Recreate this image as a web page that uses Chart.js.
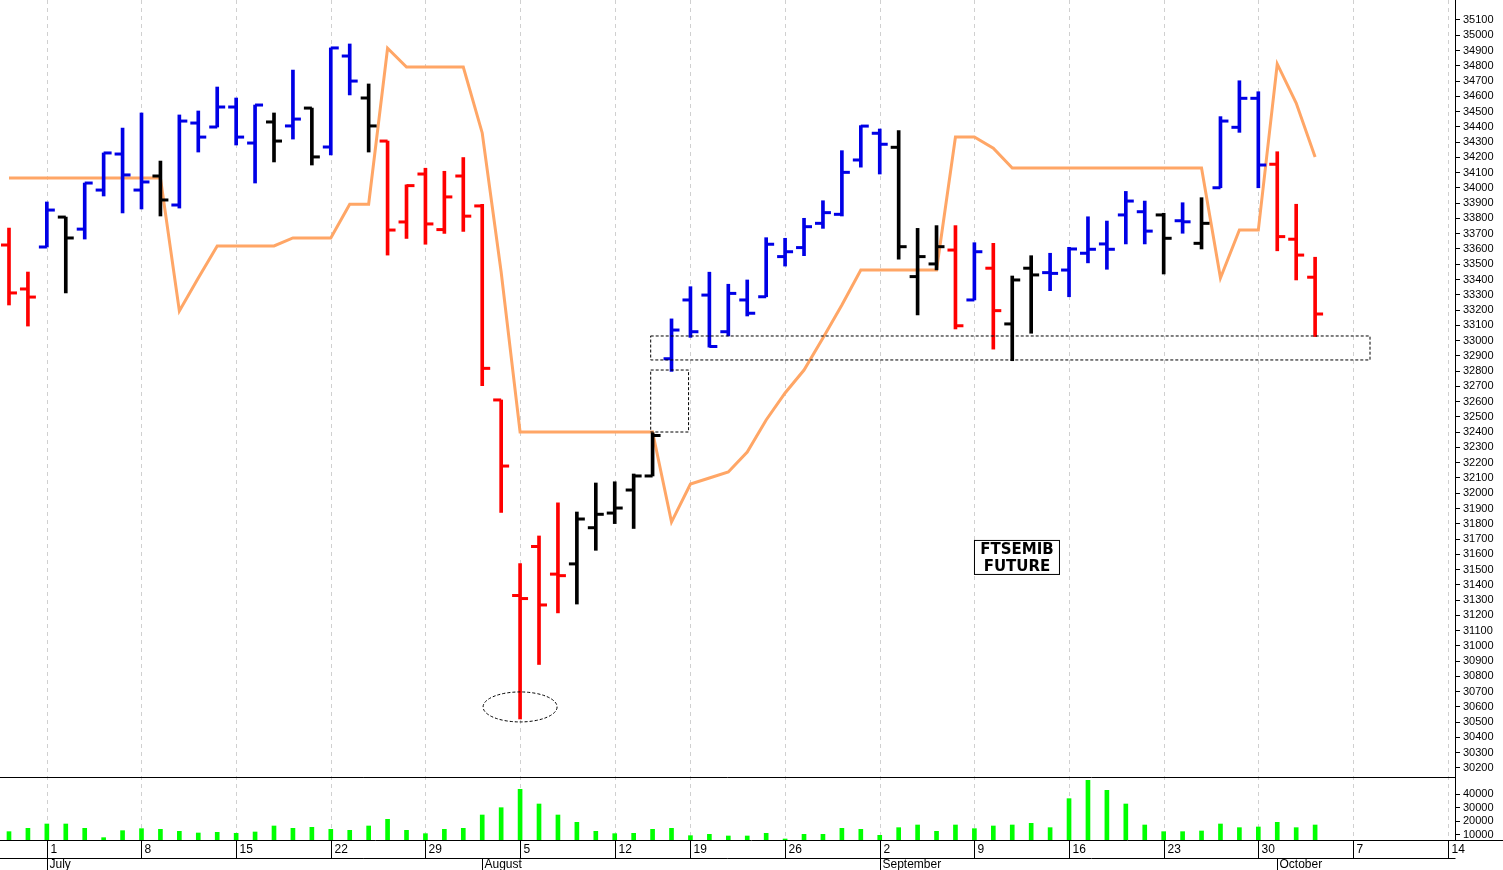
<!DOCTYPE html>
<html><head><meta charset="utf-8">
<script src="https://cdn.jsdelivr.net/npm/chart.js@4.4.1/dist/chart.umd.min.js"></script>
<style>html,body{margin:0;padding:0;background:#fff}#wrap{width:1503px;height:870px}</style>
</head><body><div id="wrap"><canvas id="c"></canvas></div>
<script>
const dates = ['2019-06-27','2019-06-28',
'2019-07-01','2019-07-02','2019-07-03','2019-07-04','2019-07-05',
'2019-07-08','2019-07-09','2019-07-10','2019-07-11','2019-07-12',
'2019-07-15','2019-07-16','2019-07-17','2019-07-18','2019-07-19',
'2019-07-22','2019-07-23','2019-07-24','2019-07-25','2019-07-26',
'2019-07-29','2019-07-30','2019-07-31','2019-08-01','2019-08-02',
'2019-08-05','2019-08-06','2019-08-07','2019-08-08','2019-08-09',
'2019-08-12','2019-08-13','2019-08-14','2019-08-16',
'2019-08-19','2019-08-20','2019-08-21','2019-08-22','2019-08-23',
'2019-08-26','2019-08-27','2019-08-28','2019-08-29','2019-08-30',
'2019-09-02','2019-09-03','2019-09-04','2019-09-05','2019-09-06',
'2019-09-09','2019-09-10','2019-09-11','2019-09-12','2019-09-13',
'2019-09-16','2019-09-17','2019-09-18','2019-09-19','2019-09-20',
'2019-09-23','2019-09-24','2019-09-25','2019-09-26','2019-09-27',
'2019-09-30','2019-10-01','2019-10-02','2019-10-03','2019-10-04',
'2019-10-07','2019-10-08','2019-10-09','2019-10-10','2019-10-11',
'2019-10-14'];
const opens  = [33626,33338,33613,33809,33730,33986,34222,33986,34078,33888,34425,34399,34530,34294,34432,34406,34523,34268,34864,34589,
34307,33777,34091,33727,34078,33882,32611,31330,31651,31470,31537,31774,31870,32021,32113,32881,33266,33298,33058,33266,
33287,33550,33609,33768,33827,34183,34358,34266,33419,33502,33593,33266,33474,33109,33474,33445,33462,33572,33633,33823,
33844,33823,33785,33637,34001,34397,34587,34155,33664,33415];
const highs  = [33737,33449,33908,33809,34032,34229,34392,34491,34176,34478,34504,34661,34589,34543,34491,34772,34523,34917,34943,34681,
34307,34020,34129,34109,34199,33892,32611,31539,31720,31937,31877,32067,32075,32126,32396,33142,33353,33448,33369,33397,
33674,33670,33801,33916,34244,34408,34386,34375,33735,33753,33753,33641,33637,33423,33556,33572,33611,33811,33783,33977,
33914,33834,33903,33936,34467,34702,34630,34237,33893,33546];
const lows   = [33233,33095,33613,33312,33665,33947,33836,33862,33816,33868,34235,34399,34281,34032,34170,34320,34150,34216,34609,34235,
33560,33669,33631,33702,33715,32705,31874,30521,30878,31216,31274,31626,31801,31769,32113,32798,33021,32957,33030,33161,
33287,33488,33556,33735,33816,34136,34091,33534,33168,33463,33076,33266,32944,32868,33048,33327,33287,33509,33467,33633,
33633,33436,33703,33600,34001,34364,34001,33588,33397,33026];
const closes = [33312,33285,33855,33672,34032,34229,34085,34039,33921,34438,34333,34530,34333,34543,34307,34451,34203,34917,34700,34406,
33724,34015,33764,33941,33815,32818,32178,31310,31268,31460,31831,31862,31903,32113,32378,33069,33058,32961,33309,33179,
33631,33582,33746,33838,34102,34405,34286,33615,33550,33615,33097,33582,33196,33397,33430,33440,33600,33598,33598,33914,
33717,33670,33778,33768,34438,34587,34150,33681,33560,33174];
const signals = ['dn','dn','up','nt','up','up','up','up','nt','up','up','up','up','up','nt','up','nt','up','up','nt',
'dn','dn','dn','dn','dn','dn','dn','dn','dn','dn','nt','nt','nt','nt','nt','up','up','up','up','up',
'up','up','up','up','up','up','up','nt','nt','nt','dn','up','dn','nt','nt','up','up','up','up','up',
'up','nt','up','nt','up','up','up','dn','dn','dn'];
const trendLine = [34065,34065,34065,34065,34065,34065,34065,34065,34065,33194,33410,33620,33620,33620,33620,33672,33672,33672,33893,33893,
34915,34792,34792,34792,34792,34360,33449,32401,32401,32401,32401,32401,32401,32401,32401,31811,32060,32100,32139,32270,
32480,32657,32807,33017,33233,33462,33462,33462,33462,33462,34334,34334,34260,34130,34130,34130,34130,34130,34130,34130,
34130,34130,34130,34130,33410,33724,33724,34812,34556,34203];
const volumes = [12440,14880,18050,18050,14880,8050,13170,14640,14150,12680,11460,11950,11220,12200,16590,14880,15610,14150,13410,16590,
21460,13410,10980,14150,14880,24630,29980,43410,32680,24630,19270,12680,10980,11220,14150,14880,9510,10490,9270,9270,
11220,7070,10490,10490,14880,14150,9760,15370,17320,12680,17320,14640,16590,17320,18540,15370,36590,50000,42680,32680,
17320,12440,12440,12930,18050,15370,15860,19270,15370,17320];
const priceTicks = [];
for (let v = 30200; v <= 35100; v += 100) priceTicks.push(v);
const volumeTicks = [10000,20000,30000,40000];
const chartTitle = ['FTSEMIB','FUTURE'];

const signalColor = {up:'#0000E6', dn:'#FF0000', nt:'#000000'};
const colors = signals.map(s => signalColor[s]);
const tickShift = 0.21;
const dObjs = dates.map(d => new Date(d + 'T12:00:00'));
const mondayIdx = dObjs.map((d,i)=> d.getDay()===1 ? i : -1).filter(i=>i>=0);
const monthStartIdx = dObjs.map((d,i)=> (i>0 && d.getMonth()!==dObjs[i-1].getMonth()) ? i : -1).filter(i=>i>=0);
const monthNames = ['January','February','March','April','May','June','July','August','September','October','November','December'];

const overlay = {
  id:'overlay',
  beforeDatasetsDraw(chart){
    const {ctx, scales:{x,yv}} = chart;
    ctx.save();
    ctx.strokeStyle='#d0d0d0'; ctx.lineWidth=1; ctx.setLineDash([4,4]);
    mondayIdx.forEach(i=>{
      const px=Math.round(x.getPixelForValue(i))+0.5;
      ctx.beginPath(); ctx.moveTo(px,0); ctx.lineTo(px,yv.bottom); ctx.stroke();
    });
    ctx.restore();
  },
  afterDatasetsDraw(chart){
    const {ctx, scales:{x,y}} = chart;
    ctx.save();
    ctx.strokeStyle='#000'; ctx.lineWidth=1; ctx.setLineDash([3,2]);
    let x1=x.getPixelForValue(34-0.1), x2=x.getPixelForValue(71.9);
    let y1=y.getPixelForValue(33030), y2=y.getPixelForValue(32873);
    ctx.strokeRect(x1,y1,x2-x1,y2-y1);
    let x3=x.getPixelForValue(35.9);
    let y3=y.getPixelForValue(32807), y4=y.getPixelForValue(32401);
    ctx.strokeRect(x1,y3,x3-x1,y4-y3);
    ctx.beginPath();
    const cx=x.getPixelForValue(27), cy=y.getPixelForValue(30600);
    ctx.ellipse(cx,cy,37,15,0,0,Math.PI*2); ctx.stroke();
    ctx.setLineDash([]);
    const tx=x.getPixelForValue(53.25), ty=y.getPixelForValue(31576);
    ctx.fillStyle='#fff'; ctx.fillRect(tx-42,ty-17,85,34);
    ctx.strokeRect(tx-42.5,ty-17.5,85,34);
    ctx.fillStyle='#000'; ctx.font='bold 15px "DejaVu Sans"'; ctx.textAlign='center'; ctx.textBaseline='middle';
    ctx.fillText(chartTitle[0],tx,ty-8); ctx.fillText(chartTitle[1],tx,ty+9);
    ctx.restore();
  },
  afterDraw(chart){
    const {ctx, scales:{x,y,yv}} = chart;
    const W=chart.width;
    ctx.save();
    ctx.strokeStyle='#000'; ctx.lineWidth=1;
    const right=Math.round(x.right)+0.5;
    ctx.beginPath();
    ctx.moveTo(0,Math.round(y.bottom)+0.5); ctx.lineTo(right,Math.round(y.bottom)+0.5);
    ctx.moveTo(0,Math.round(yv.bottom)+0.5); ctx.lineTo(W,Math.round(yv.bottom)+0.5);
    ctx.moveTo(0,Math.round(yv.bottom)+18.5); ctx.lineTo(right,Math.round(yv.bottom)+18.5);
    ctx.moveTo(right,0); ctx.lineTo(right,yv.bottom);
    ctx.stroke();
    const base=Math.round(yv.bottom);
    ctx.font='12px "Liberation Sans"'; ctx.fillStyle='#000'; ctx.textBaseline='middle'; ctx.textAlign='left';
    mondayIdx.forEach(i=>{
      const px=Math.round(x.getPixelForValue(i))+0.5;
      ctx.beginPath(); ctx.moveTo(px,base); ctx.lineTo(px,base+18); ctx.stroke();
      ctx.fillText(String(dObjs[i].getDate()),px+3,base+10);
    });
    monthStartIdx.forEach(i=>{
      const px=Math.round(x.getPixelForValue(i))+0.5;
      ctx.beginPath(); ctx.moveTo(px,base+18); ctx.lineTo(px,base+30); ctx.stroke();
      ctx.fillText(monthNames[dObjs[i].getMonth()],px+2,base+25);
    });
    ctx.restore();
  }
};

const idx = opens.map((_,i)=>i);
new Chart(document.getElementById('c'), {
  data:{
    datasets:[
      {type:'line', data:idx.map(i=>({x:i,y:trendLine[i]})), yAxisID:'y', borderColor:'#FFA666', borderWidth:3, pointRadius:0, tension:0, order:3},
      {type:'bar', data:idx.map(i=>({x:i,y:[lows[i],highs[i]]})), yAxisID:'y', backgroundColor:colors, barThickness:3, grouped:false, order:2},
      {type:'scatter', data:idx.map(i=>({x:i-tickShift,y:opens[i]})), yAxisID:'y', pointStyle:'line', pointRadius:4, pointBorderWidth:3, pointBorderColor:colors, pointBackgroundColor:colors, order:1},
      {type:'scatter', data:idx.map(i=>({x:i+tickShift,y:closes[i]})), yAxisID:'y', pointStyle:'line', pointRadius:4, pointBorderWidth:3, pointBorderColor:colors, pointBackgroundColor:colors, order:1},
      {type:'bar', data:idx.map(i=>({x:i,y:volumes[i]})), yAxisID:'yv', backgroundColor:'#00FF00', barThickness:4, grouped:false, order:2}
    ]
  },
  options:{
    responsive:true, maintainAspectRatio:false, animation:false, events:[],
    layout:{autoPadding:false, padding:{left:0,right:0,top:0,bottom:30}},
    plugins:{legend:{display:false}, tooltip:{enabled:false}},
    scales:{
      x:{type:'linear', min:-0.475, max:76.39, offset:false, bounds:'data',
         ticks:{display:false}, border:{display:false},
         grid:{display:false},
         afterFit(s){ s.height=0; s.paddingLeft=0; s.paddingRight=0; }
      },
      y:{type:'linear', position:'right', stack:'main', stackWeight:777, min:30141, max:35231,
         afterBuildTicks(s){ s.ticks = priceTicks.map(v=>({value:v})); },
         afterFit(s){ s.width=48; s.paddingTop=0; s.paddingBottom=0; },
         ticks:{color:'#000', autoSkip:false, font:{family:'Liberation Sans', size:11}, padding:3, callback:v=>String(v)},
         grid:{display:true, drawOnChartArea:false, drawTicks:true, tickLength:5, color:'#000'},
         border:{display:false}},
      yv:{type:'linear', position:'right', stack:'main', stackWeight:63, min:6340, max:52440,
         afterBuildTicks(s){ s.ticks = volumeTicks.map(v=>({value:v})); },
         afterFit(s){ s.width=48; s.paddingTop=0; s.paddingBottom=0; },
         ticks:{color:'#000', autoSkip:false, font:{family:'Liberation Sans', size:11}, padding:3, callback:v=>String(v)},
         grid:{display:true, drawOnChartArea:false, drawTicks:true, tickLength:5, color:'#000'},
         border:{display:false}}
    }
  },
  plugins:[overlay]
});
</script>
</body></html>
